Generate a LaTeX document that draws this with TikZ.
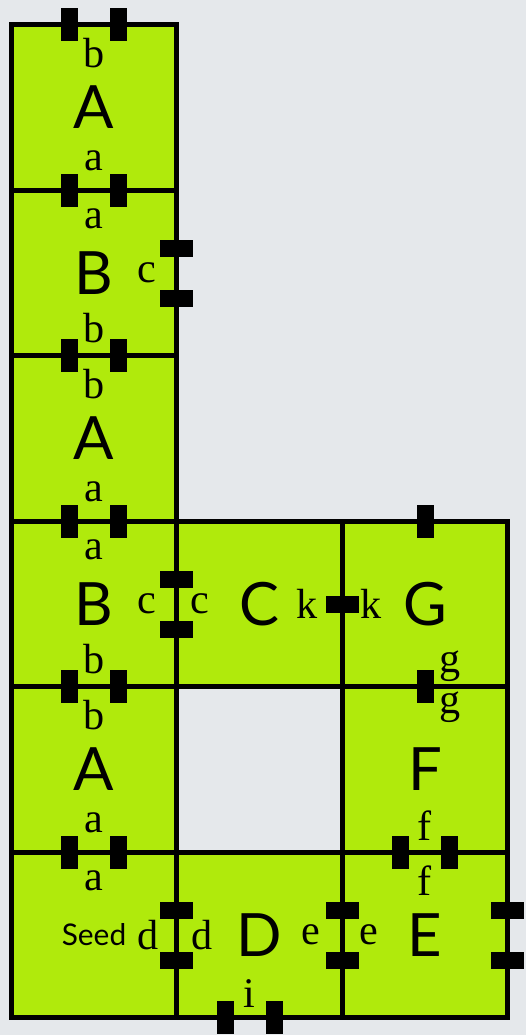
\documentclass[tikz,border=0pt]{standalone}
\usepackage{fontspec}
\setmainfont{Liberation Serif}
\newfontfamily\tilefont{Lato}
\usetikzlibrary{positioning}
\definecolor{tileGreen}{HTML}{B0EA0C}
\definecolor{tileBack}{HTML}{E5E8EB}
\tikzset{
  tile/.style={rectangle,draw=black,fill=tileGreen,line width=2.6pt,outer sep=0pt,inner sep=0pt,
    minimum size=3.31cm,font=\tilefont\fontsize{34}{34}\selectfont},
  seedtile/.style={tile,font=\tilefont\fontsize{17}{17}\selectfont},
  gluev/.style={rectangle,fill=black,inner sep=0pt,minimum width=0.34cm,minimum height=0.66cm},
  glueh/.style={rectangle,fill=black,inner sep=0pt,minimum width=0.66cm,minimum height=0.34cm},
  edgelab/.style={inner sep=0pt,font=\fontsize{24}{24}\selectfont}
}

\begin{document}
\begin{tikzpicture}[node distance=0pt]
  \fill[tileBack] (0,0) rectangle (10.52,-20.70);
  % tiles
  \node[tile] (a1) at (1.88,-2.15) {A};
  \node[tile, below=of a1] (b1) {B};
  \node[tile, below=of b1] (a2) {A};
  \node[tile, below=of a2] (b2) {B};
  \node[tile, below=of b2] (a3) {A};
  \node[seedtile, below=of a3] (seed) {Seed\hspace{0.42cm}};
  \node[tile, right=of b2] (c) {C\hspace{0.36cm}};
  \node[tile, right=of c] (g) {G\hspace{0.22cm}};
  \node[tile, below=of g] (f) {F};
  \node[tile, below=of f] (e) {E\hspace{0.1cm}};
  \node[tile, right=of seed] (d) {D};
  % edge labels
  \node[edgelab] (a1-t) at ([yshift=-0.56cm]a1.north) {b};
  \node[edgelab] (a1-b) at ([yshift=0.58cm]a1.south) {a};
  \node[edgelab] (b1-t) at ([yshift=-0.58cm]b1.north) {a};
  \node[edgelab] (b1-r) at ([xshift=-0.6cm]b1.east) {c};
  \node[edgelab] (b1-b) at ([yshift=0.56cm]b1.south) {b};
  \node[edgelab] (a2-t) at ([yshift=-0.56cm]a2.north) {b};
  \node[edgelab] (a2-b) at ([yshift=0.58cm]a2.south) {a};
  \node[edgelab] (b2-t) at ([yshift=-0.58cm]b2.north) {a};
  \node[edgelab] (b2-r) at ([xshift=-0.6cm]b2.east) {c};
  \node[edgelab] (b2-b) at ([yshift=0.56cm]b2.south) {b};
  \node[edgelab] (a3-t) at ([yshift=-0.56cm]a3.north) {b};
  \node[edgelab] (a3-b) at ([yshift=0.58cm]a3.south) {a};
  \node[edgelab] (seed-t) at ([yshift=-0.58cm]seed.north) {a};
  \node[edgelab] (seed-r) at ([xshift=-0.58cm]seed.east) {d};
  \node[edgelab] (c-l) at ([xshift=0.46cm]c.west) {c};
  \node[edgelab] (c-r) at ([xshift=-0.7cm]c.east) {k};
  \node[edgelab] (g-l) at ([xshift=0.57cm]g.west) {k};
  \node[edgelab] (g-b) at ([xshift=0.5cm,yshift=0.42cm]g.south) {g};
  \node[edgelab] (f-t) at ([xshift=0.5cm,yshift=-0.4cm]f.north) {g};
  \node[edgelab] (f-b) at ([yshift=0.54cm]f.south) {f};
  \node[edgelab] (e-l) at ([xshift=0.54cm]e.west) {e};
  \node[edgelab] (e-t) at ([yshift=-0.56cm]e.north) {f};
  \node[edgelab] (d-l) at ([xshift=0.5cm]d.west) {d};
  \node[edgelab] (d-r) at ([xshift=-0.63cm]d.east) {e};
  \node[edgelab] (d-b) at ([xshift=-0.2cm,yshift=0.48cm]d.south) {i};
  % glues
  \foreach \t/\side in {a1/north,a1/south,b1/south,a2/south,b2/south,a3/south,f/south}{
    \node[gluev] (\t\side-l) at ([xshift=-0.49cm]\t.\side) {};
    \node[gluev] (\t\side-r) at ([xshift=0.49cm]\t.\side) {};
  }
  \foreach \t in {b1,b2,seed,d,e}{
    \node[glueh] (\t-gu) at ([yshift=0.5cm]\t.east) {};
    \node[glueh] (\t-gd) at ([yshift=-0.5cm]\t.east) {};
  }
  \node[gluev] (d-gl) at ([xshift=-0.69cm]d.south) {};
  \node[gluev] (d-gr) at ([xshift=0.29cm]d.south) {};
  \node[glueh] (c-gk) at (c.east) {};
  \node[gluev] (g-gt) at (g.north) {};
  \node[gluev] (g-gb) at (g.south) {};
\end{tikzpicture}
\end{document}
